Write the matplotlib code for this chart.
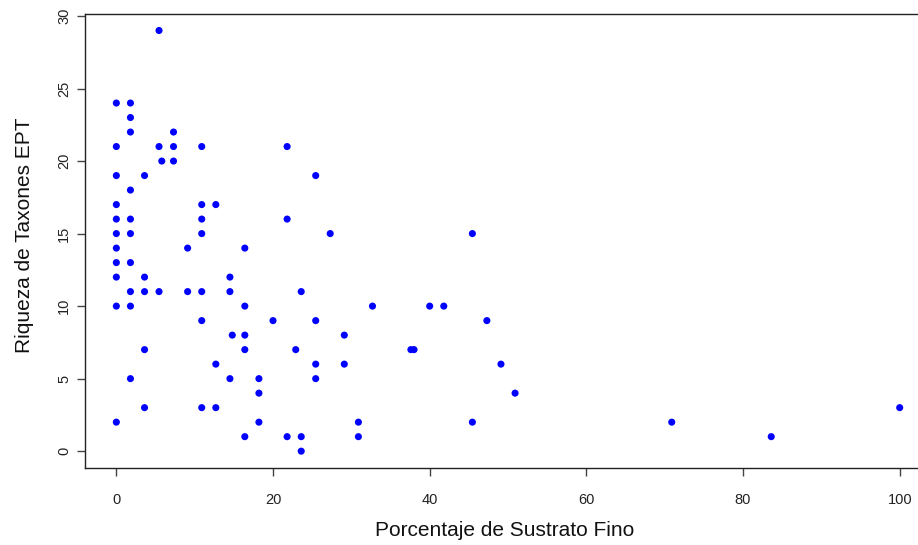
import numpy as np
import matplotlib
matplotlib.use("Agg")
from matplotlib import pyplot as plt

plt.rcParams['font.family'] = ['Liberation Sans', 'DejaVu Sans']

# Porcentaje de sustrato fino (x) y riqueza EPT (y)
sustrato = [0, 0, 0, 0, 0, 0, 0, 0, 0, 0, 0,
            1.8, 1.8, 1.8, 1.8, 1.8, 1.8, 1.8, 1.8, 1.8, 1.8,
            3.6, 3.6, 3.6, 3.6, 3.6,
            5.45, 5.45, 5.45, 5.8,
            7.3, 7.3, 7.3,
            9.1, 9.1,
            10.9, 10.9, 10.9, 10.9, 10.9, 10.9, 10.9,
            12.7, 12.7, 12.7,
            14.5, 14.5, 14.5, 14.8,
            16.4, 16.4, 16.4, 16.4, 16.4,
            18.2, 18.2, 18.2,
            20.0,
            21.8, 21.8, 21.8, 22.9,
            23.6, 23.6, 23.6,
            25.45, 25.45, 25.45, 25.45,
            27.3, 29.1, 29.1, 30.9, 30.9, 32.7,
            37.6, 38.0, 40.0, 41.8, 45.45, 45.45, 47.3, 49.1, 50.9,
            70.9, 83.6, 100]
riqueza = [24, 21, 19, 17, 16, 15, 14, 13, 12, 10, 2,
           24, 23, 22, 18, 16, 15, 13, 11, 10, 5,
           19, 12, 11, 7, 3,
           29, 21, 11, 20,
           22, 21, 20,
           14, 11,
           21, 17, 16, 15, 11, 9, 3,
           17, 6, 3,
           12, 11, 5, 8,
           14, 10, 8, 7, 1,
           5, 4, 2,
           9,
           21, 16, 1, 7,
           11, 1, 0,
           19, 9, 6, 5,
           15, 8, 6, 2, 1, 10,
           7, 7, 10, 10, 15, 2, 9, 6, 4,
           2, 1, 3]

xticks = [0, 20, 40, 60, 80, 100]
yticks = [0, 5, 10, 15, 20, 25, 30]

fig = plt.figure(figsize=(9.18, 5.45), dpi=100)
# el eje derecho queda fuera de la imagen (recortada)
ax = fig.add_axes([0.0926, 0.1413, 0.9216, 0.8336])

ax.scatter(sustrato, riqueza, s=26, color='#0000ff', edgecolors='none', zorder=3)

ax.set_xlim(-4, 104)
ax.set_ylim(-1.16, 30.16)
ax.set_xticks(xticks)
ax.set_yticks(yticks)
ax.tick_params(axis='x', length=6, width=1, color='#444444', labelsize=10.5,
               labelcolor='#222222', pad=12)
ax.tick_params(axis='y', length=6, width=1, color='#444444', labelsize=10.5,
               labelcolor='#222222', pad=4, labelrotation=90)
for lbl in ax.get_yticklabels():
    lbl.set_va('center')
for side in ['left', 'top', 'bottom']:
    ax.spines[side].set_color('#222222')
    ax.spines[side].set_linewidth(1)
ax.spines['right'].set_visible(False)

fig.text(0.55, 0.026, 'Porcentaje de Sustrato Fino', ha='center', va='center',
         fontsize=15, color='#111111')
fig.text(0.027, 0.569, 'Riqueza de Taxones EPT', ha='center', va='center',
         rotation=90, fontsize=15, color='#111111')

fig.savefig('out.png', dpi=100)
